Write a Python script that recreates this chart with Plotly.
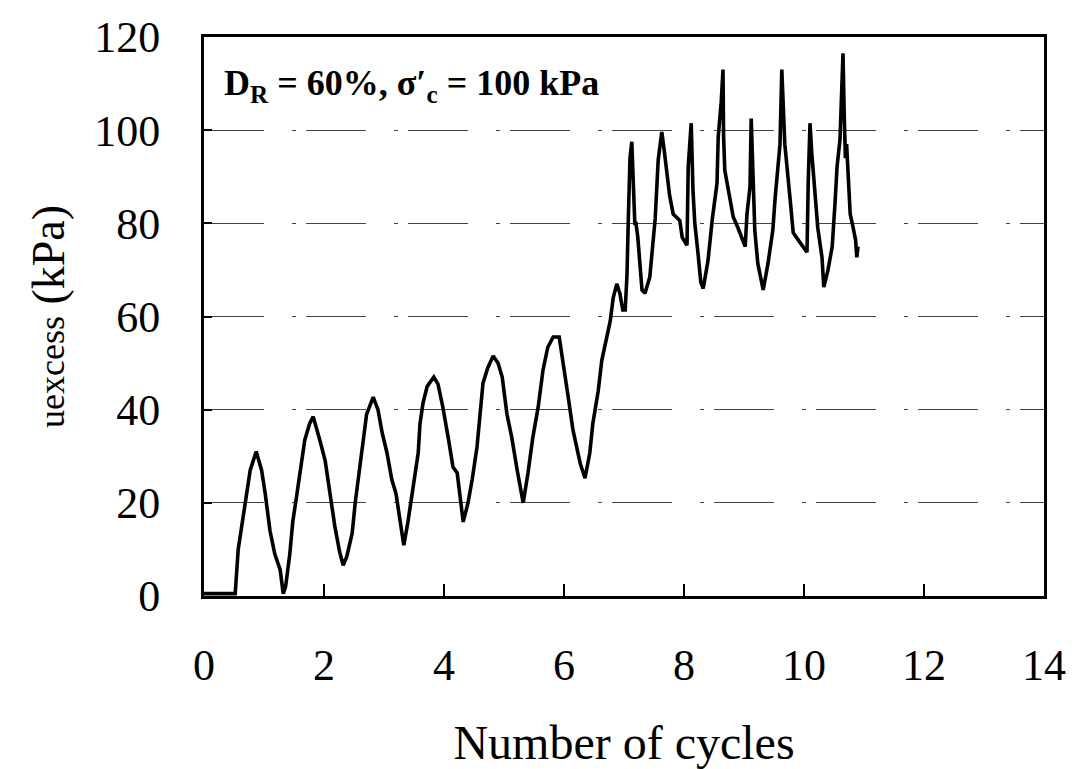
import plotly.graph_objects as go

cycles = [
    0.00, 0.30, 0.50, 0.52, 0.57, 0.63, 0.68, 0.77, 0.87, 0.96, 1.02, 1.10, 1.18, 1.27, 1.32, 1.36,
    1.43, 1.48, 1.55, 1.60, 1.68, 1.76, 1.82, 1.93, 2.02, 2.10, 2.18, 2.26, 2.32, 2.38,
    2.47, 2.52, 2.60, 2.65, 2.71, 2.82, 2.90, 2.97, 3.05, 3.13, 3.20, 3.27, 3.33,
    3.40, 3.48, 3.57, 3.60, 3.65, 3.72, 3.83, 3.90, 3.98, 4.07, 4.15, 4.22, 4.27, 4.32,
    4.40, 4.47, 4.55, 4.60, 4.65, 4.73, 4.82, 4.90, 4.97, 5.05, 5.13, 5.22, 5.32,
    5.40, 5.48, 5.57, 5.65, 5.73, 5.82, 5.92, 5.98, 6.07, 6.15, 6.27, 6.35,
    6.43, 6.48, 6.57, 6.63, 6.72, 6.77, 6.82, 6.88, 6.93, 6.98, 7.02, 7.05, 7.07, 7.10, 7.13,
    7.15, 7.18, 7.20, 7.23, 7.30, 7.35, 7.43, 7.47, 7.52, 7.57, 7.63,
    7.67, 7.72, 7.76, 7.82, 7.93, 7.97, 8.05, 8.07, 8.12,
    8.15, 8.18, 8.23, 8.28, 8.32, 8.40, 8.47, 8.55, 8.57, 8.62, 8.65,
    8.66, 8.68, 8.77, 8.82, 8.90, 8.98, 9.02, 9.05, 9.10, 9.12,
    9.15, 9.18, 9.23, 9.32, 9.40, 9.48, 9.52, 9.60, 9.63,
    9.66, 9.68, 9.77, 9.82, 9.90, 9.98, 10.05, 10.07, 10.10,
    10.13, 10.18, 10.23, 10.30, 10.33, 10.40, 10.47, 10.52, 10.55, 10.60, 10.65,
    10.67, 10.69, 10.71, 10.73, 10.77, 10.82, 10.86, 10.88, 10.90,
]
u_excess = [
    0.5, 0.5, 0.5, 0.5, 10.0, 15.0, 20.0, 27.0, 31.0, 27.0, 22.0, 14.0, 9.0, 5.6, 0.5, 2.0,
    9.0, 16.0, 22.0, 27.0, 33.5, 37.0, 38.5, 33.5, 29.0, 22.0, 15.0, 9.5, 6.6, 8.5,
    13.5, 20.0, 28.5, 34.0, 39.0, 42.7, 40.0, 35.0, 30.7, 25.0, 22.0, 16.0, 10.9,
    16.0, 23.4, 30.7, 37.0, 41.4, 45.0, 47.0, 45.5, 40.6, 34.0, 27.7, 26.4, 20.6, 15.9,
    20.0, 25.0, 32.0, 40.0, 45.7, 49.0, 51.5, 50.0, 47.0, 39.0, 34.0, 27.0, 20.0,
    26.4, 34.0, 40.6, 48.5, 53.4, 55.6, 55.6, 50.0, 42.7, 35.6, 28.5, 25.3,
    30.7, 37.0, 44.0, 50.6, 56.4, 59.0, 64.0, 67.0, 65.0, 61.4, 61.4, 69.0, 80.0, 94.0, 97.5,
    90.0, 80.0, 80.0, 77.0, 65.7, 65.0, 68.5, 74.0, 81.0, 93.6, 99.6,
    95.7, 90.8, 86.0, 82.0, 80.6, 77.0, 75.3, 92.0, 101.5,
    87.0, 80.0, 74.0, 67.4, 66.0, 72.0, 80.7, 88.6, 98.5, 106.0, 113.0,
    98.5, 91.4, 85.0, 81.4, 79.0, 76.4, 75.0, 82.0, 87.8, 102.5,
    88.6, 78.5, 71.4, 65.7, 71.4, 78.5, 85.6, 97.0, 113.0,
    104.0, 97.0, 85.0, 78.0, 76.5, 75.0, 73.8, 88.6, 101.5,
    95.0, 87.0, 79.0, 72.7, 66.3, 70.0, 75.0, 85.0, 92.0, 98.0, 116.5,
    103.6, 94.0, 97.0, 92.0, 82.0, 79.0, 76.4, 72.7, 75.0,
]

x_ticks = [0, 2, 4, 6, 8, 10, 12, 14]
y_ticks = [0, 20, 40, 60, 80, 100, 120]

serif = "Liberation Serif, Times New Roman, serif"

fig = go.Figure()
fig.add_trace(go.Scatter(
    x=cycles, y=u_excess, mode="lines",
    line=dict(color="black", width=3.6),
    showlegend=False, hoverinfo="skip",
))

fig.add_annotation(
    x=0.3, y=109.5, xref="x", yref="y", xanchor="left", yanchor="middle",
    text="<b>D<sub>R</sub> = 60%, σ′<sub>c</sub> = 100 kPa</b>",
    showarrow=False, font=dict(family=serif, size=36, color="black"),
)

fig.update_layout(
    width=1092, height=769,
    margin=dict(l=204, r=48, t=37, b=173),
    paper_bgcolor="white", plot_bgcolor="white",
    font=dict(family=serif, color="black"),
    xaxis=dict(
        range=[0, 14], tickvals=x_ticks, ticktext=[str(v) for v in x_ticks],
        ticks="inside", ticklen=12, tickwidth=1.5, tickcolor="black",
        showline=True, linewidth=3, linecolor="black", mirror=True,
        showgrid=False, zeroline=False, automargin=False,
        tickfont=dict(family=serif, size=44, color="black"),
        ticklabelstandoff=28,
        title=dict(text="Number of cycles", font=dict(family=serif, size=48, color="black"),
                   standoff=37),
    ),
    yaxis=dict(
        range=[0, 120], tickvals=y_ticks, ticktext=[str(v) for v in y_ticks],
        ticks="inside", ticklen=8, tickwidth=1.5, tickcolor="black",
        showline=True, linewidth=3, linecolor="black", mirror=True,
        showgrid=True, gridcolor="#444444", gridwidth=1.2,
        griddash="60px,28px,4px,10px",
        zeroline=False, automargin=False,
        tickfont=dict(family=serif, size=44, color="black"),
        ticklabelstandoff=32,
        title=dict(text="<span style='font-size:36px'>uexcess</span> (kPa)",
                   font=dict(family=serif, size=46, color="black"), standoff=16),
    ),
)

fig.write_html("out.html")
